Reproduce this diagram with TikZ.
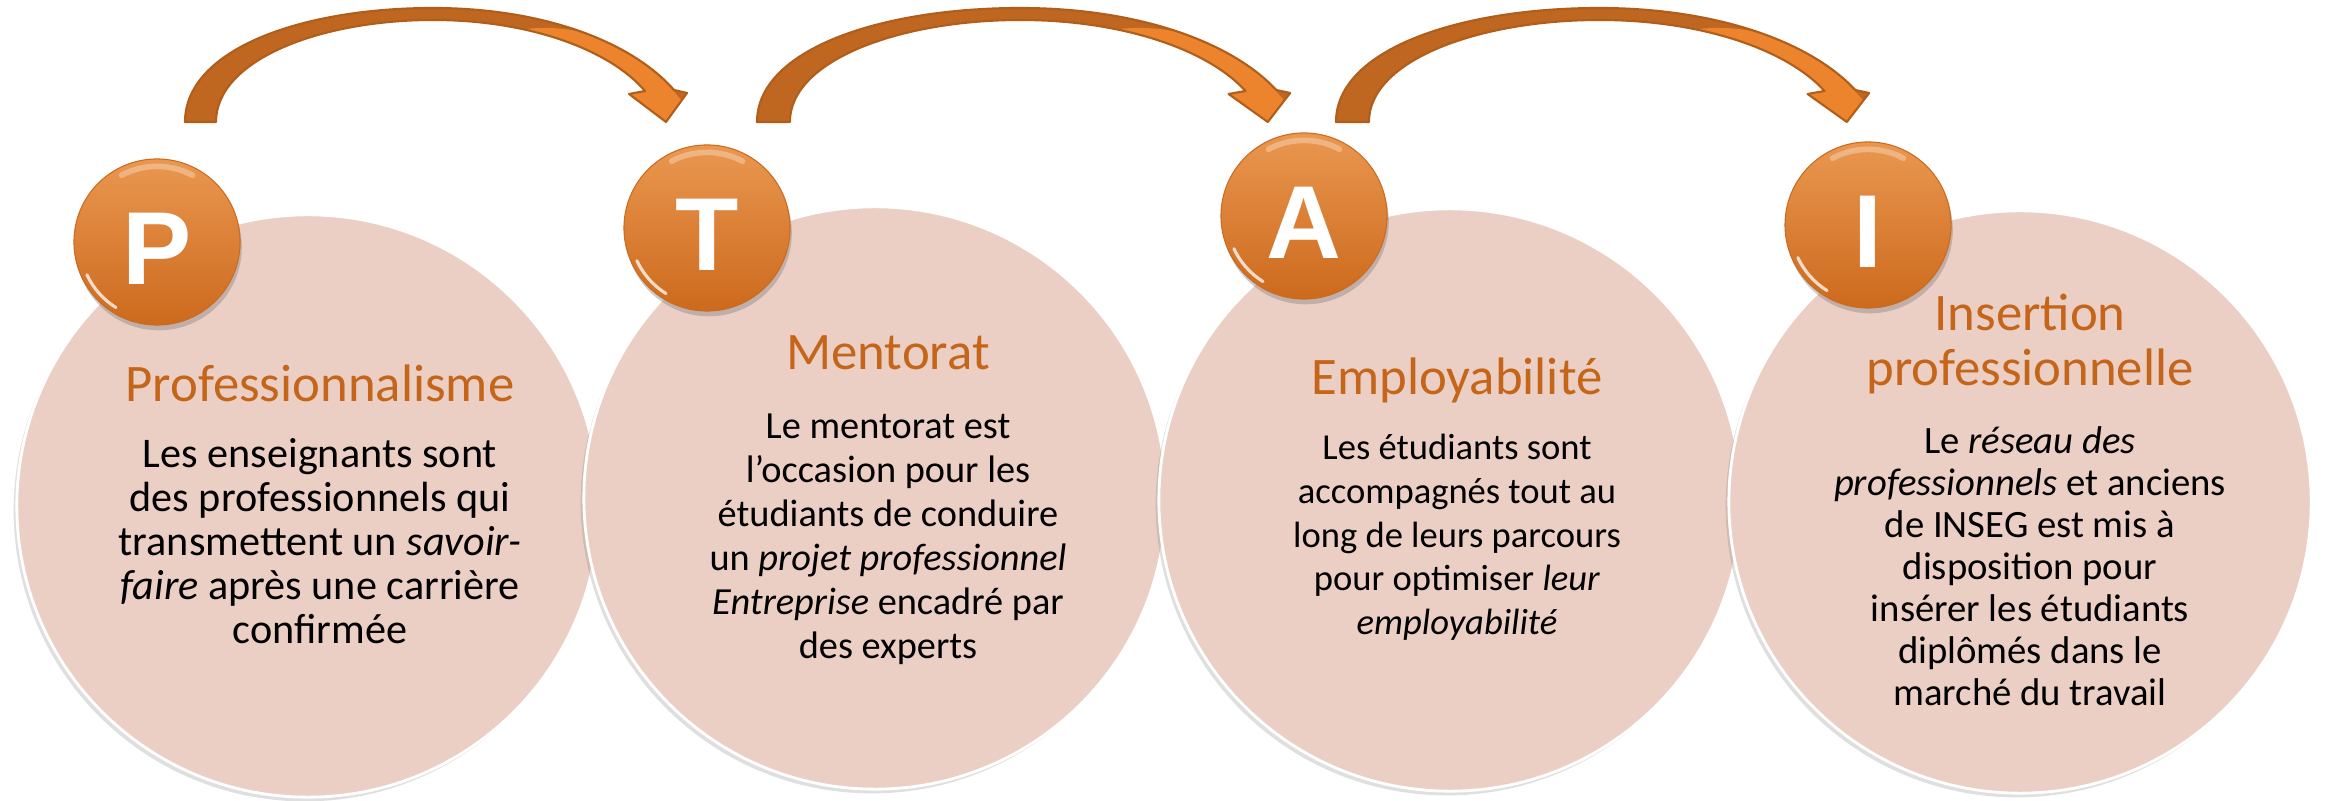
\documentclass[tikz,border=0pt]{standalone}
\usepackage{fontspec}
\setmainfont{Carlito}
\newfontfamily\badgefont{Liberation Sans}
\usepackage{tikz}
\usetikzlibrary{positioning}
\usetikzlibrary{shadows}

\definecolor{disccol}{RGB}{235,207,197}
\definecolor{titleorange}{RGB}{197,101,25}
\definecolor{badgetop}{RGB}{234,151,80}
\definecolor{badgebot}{RGB}{204,106,29}
\definecolor{arrowdark}{RGB}{191,102,32}
\definecolor{arrowlight}{RGB}{235,132,44}
\definecolor{arrowline}{RGB}{176,94,26}

\tikzset{
  disc/.style={circle, inner sep=0, minimum size=5.82cm, fill=disccol, draw=white, line width=0.8pt,
    drop shadow={shadow xshift=-0.9pt, shadow yshift=-1.2pt, opacity=0.25}},
  badge/.style={circle, inner sep=0, minimum size=1.66cm, top color=badgetop, bottom color=badgebot,
    draw=badgebot, line width=0.3pt, text=white, font=\badgefont\bfseries\fontsize{29.5}{32}\selectfont,
    text height=23.9pt, text depth=0pt,
    drop shadow={shadow xshift=0.5pt, shadow yshift=-1.5pt, opacity=0.4}},
  glint/.style={white, line cap=round},
  title/.style={text=titleorange, font=\fontsize{15}{15.6}\selectfont, anchor=base, inner sep=0, align=center},
  body/.style={text=black, font=\fontsize{10.9}{12.5}\selectfont, anchor=north, inner sep=0, align=center}
}

% curved arrow over two discs: #1 = tail corner, #2 = horizontal stretch
\newcommand{\bendarrow}[2]{%
  \begin{scope}[shift={(#1)}, xscale=#2]
    \fill[arrowdark] (0,122) .. controls (0,50) and (115,8) .. (248,8) .. controls (355,8) and (445,40) .. (489,90)
      -- (502,93) -- (481,122) -- (444,94) -- (460,91) .. controls (425,50) and (345,20) .. (248,20)
      .. controls (135,20) and (31,60) .. (31,122) -- cycle;
    \begin{scope}
      \clip (0,122) .. controls (0,50) and (115,8) .. (248,8) .. controls (355,8) and (445,40) .. (489,90)
        -- (502,93) -- (481,122) -- (444,94) -- (460,91) .. controls (425,50) and (345,20) .. (248,20)
        .. controls (135,20) and (31,60) .. (31,122) -- cycle;
      \fill[arrowlight] (300,40) .. controls (360,14) and (440,30) .. (486,88) -- (530,140) -- (300,140) -- cycle;
    \end{scope}
    \draw[arrowline, line width=0.6pt, line join=round] (0,122) .. controls (0,50) and (115,8) .. (248,8)
      .. controls (355,8) and (445,40) .. (489,90) -- (502,93) -- (481,122) -- (444,94) -- (460,91)
      .. controls (425,50) and (345,20) .. (248,20) .. controls (135,20) and (31,60) .. (31,122) -- cycle;
  \end{scope}}

\begin{document}
\begin{tikzpicture}[x=0.01cm, y=-0.01cm]
\useasboundingbox (0,0) rectangle (2328,801);

% discs, each one lying on the one before
\node[disc] (pdisc) at (308,506) {};
\node[disc] (tdisc) at (875,498) {};
\node[disc] (adisc) at (1450,500) {};
\node[disc] (idisc) at (2020,502) {};

% badges
\node[badge] (pbadge) at (157,242) {P};
\node[badge] (tbadge) at (707,228) {T};
\node[badge] (abadge) at (1304,216) {A};
\node[badge] (ibadge) at (1868,225) {I};
\foreach \b in {pbadge,tbadge,abadge,ibadge}{
  \draw[glint, opacity=0.3, line width=1.6pt] ([shift={(118:21.5pt)}]\b.center) arc[start angle=118, end angle=62, radius=21.5pt];
  \draw[glint, opacity=0.75, line width=0.9pt] ([shift={(205:22pt)}]\b.center) arc[start angle=205, end angle=238, radius=22pt];
}

% titles
\node[title] (ptitle) at (320,402) {Professionnalisme};
\node[title] (ttitle) at (888,370) {Mentorat};
\node[title] (atitle) at (1457,395) {Employabilité};
\node[title, anchor=north] (ititle) at (2030,293) {Insertion\\professionnelle};

% texts
\node[body, font=\fontsize{12}{12.5}\selectfont] (ptext) at (320,438) {Les enseignants sont\\des professionnels qui\\transmettent un \textit{savoir-}\\\textit{faire} après une carrière\\confirmée};
\node[body] (ttext) at (888,413) {Le mentorat est\\l’occasion pour les\\étudiants de conduire\\un \textit{projet professionnel}\\\textit{Entreprise} encadré par\\des experts};
\node[body, font=\fontsize{10.4}{12.5}\selectfont] (atext) at (1457,433) {Les étudiants sont\\accompagnés tout au\\long de leurs parcours\\pour optimiser \textit{leur}\\\textit{employabilité}};
\node[body, font=\fontsize{11}{11.95}\selectfont] (itext) at (2030,426) {Le \textit{réseau des}\\\textit{professionnels} et anciens\\de INSEG est mis à\\disposition pour\\insérer les étudiants\\diplômés dans le\\marché du travail};

% arrows
\coordinate (arr1) at (185,0);
\coordinate (arr2) at (757,0);
\coordinate (arr3) at (1336,0);
\bendarrow{arr1}{1}
\bendarrow{arr2}{1.062}
\bendarrow{arr3}{1.062}
\end{tikzpicture}
\end{document}
